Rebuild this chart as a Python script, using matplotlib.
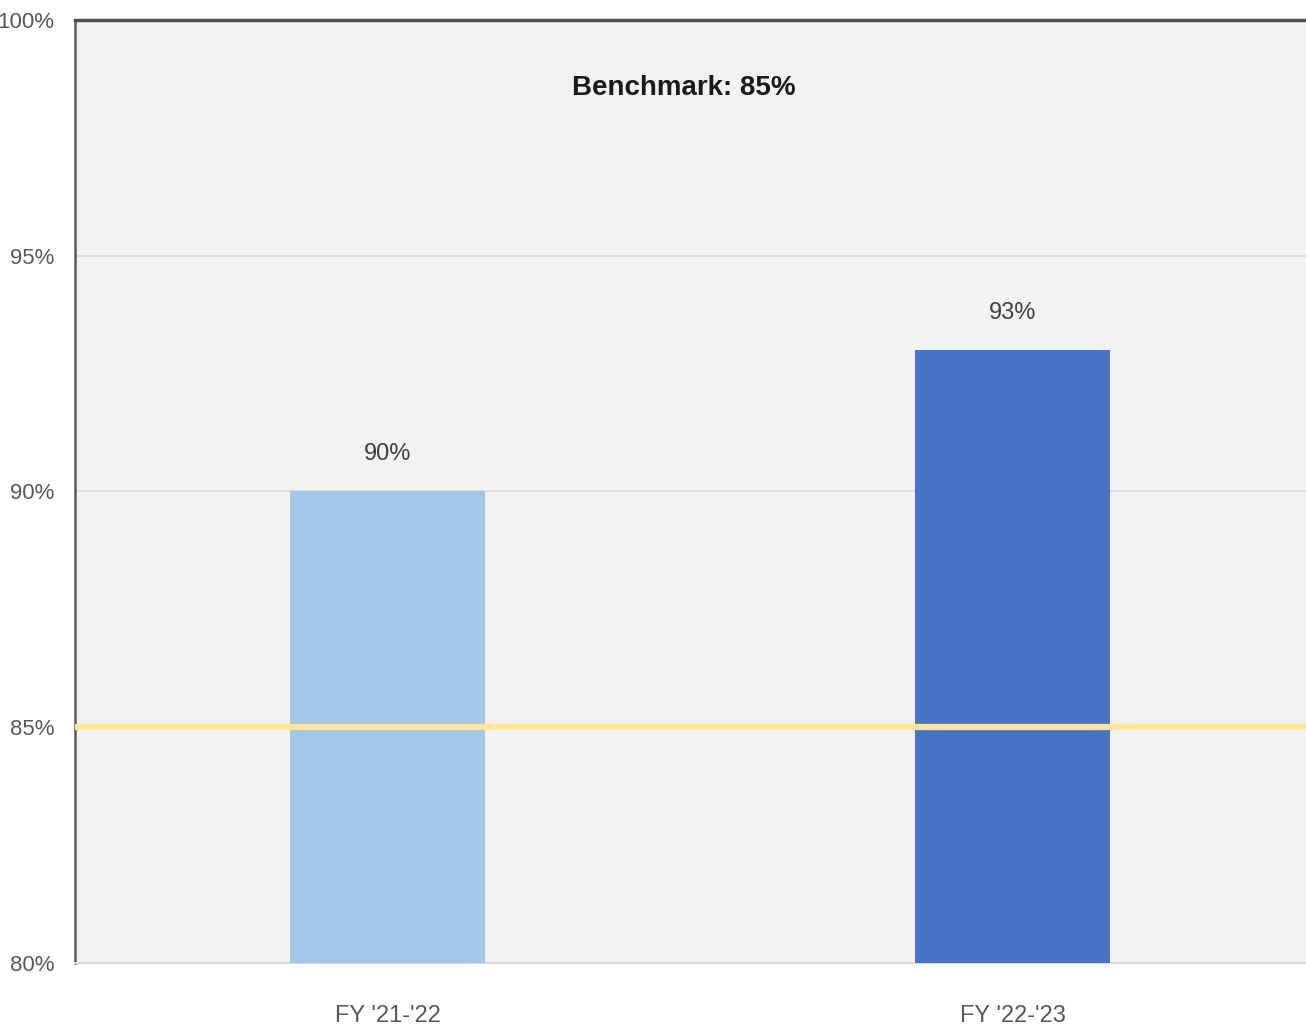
import matplotlib.pyplot as plt

categories = ["FY '21-'22", "FY '22-'23"]
rates = [90, 93]
bar_colors = ['#A3C6E8', '#4874C8']
benchmark = 85
y_ticks = [80, 85, 90, 95, 100]

plt.rcParams['font.family'] = ['Liberation Sans', 'DejaVu Sans']

fig = plt.figure(figsize=(13.06, 10.25), dpi=100)
# axes runs past the right edge of the canvas
ax = fig.add_axes([75 / 1306, 1 - 963 / 1025, 1250 / 1306, 943 / 1025])
ax.set_facecolor('#F2F2F2')

x = range(len(categories))
ax.bar(x, rates, width=0.312, color=bar_colors, zorder=3)
for xi, v in zip(x, rates):
    ax.annotate(f'{v}%', (xi, v), xytext=(0, 19), textcoords='offset points',
                ha='center', va='bottom', fontsize=17, color='#404040')

ax.axhline(benchmark, color='#FFE699', linewidth=4.5, zorder=4)
ax.text(0.474, 98.56, f'Benchmark: {benchmark}%', ha='center', va='center',
        fontsize=20, fontweight='bold', color='#1a1a1a')

ax.set_xlim(-0.5, 1.5)
ax.set_ylim(80, 100)
ax.set_yticks(y_ticks)
ax.set_yticklabels([f'{t}%' for t in y_ticks])
ax.set_xticks(list(x))
ax.set_xticklabels(categories)
ax.tick_params(axis='both', length=0, labelsize=17, labelcolor='#595959')
ax.tick_params(axis='y', labelsize=16, pad=15)
ax.tick_params(axis='x', pad=30)
ax.grid(axis='y', color='#D9D9D9', linewidth=1.2, zorder=0)

ax.spines['right'].set_visible(False)
ax.spines['left'].set_color('#595959')
ax.spines['left'].set_linewidth(1.8)
ax.spines['top'].set_color('#505050')
ax.spines['top'].set_linewidth(2.5)
ax.spines['bottom'].set_color('#D9D9D9')
ax.spines['bottom'].set_linewidth(1.5)

fig.savefig('out.png', dpi=100)
